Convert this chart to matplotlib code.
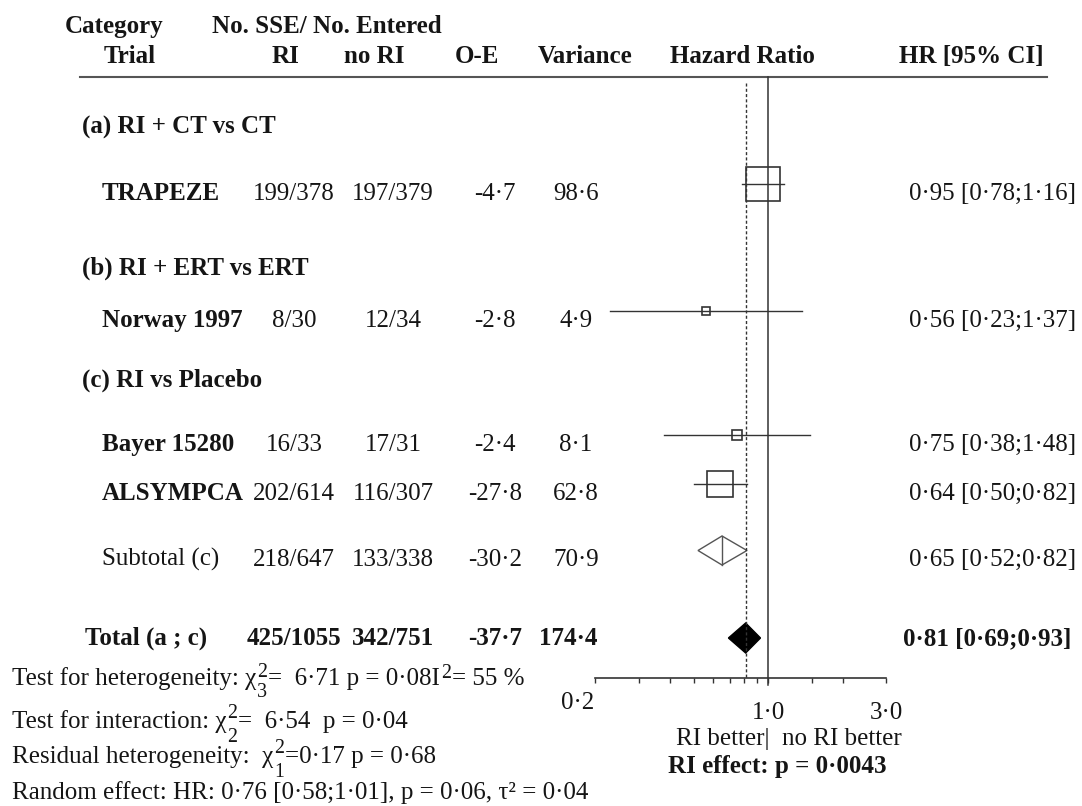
import numpy as np
import matplotlib
matplotlib.use("Agg")
import matplotlib.pyplot as plt
from matplotlib.transforms import ScaledTranslation

plt.rcParams['font.family'] = ['Liberation Serif', 'DejaVu Serif']

# === Dados ===
sections = ["(a) RI + CT vs CT", "(b) RI + ERT vs ERT", "(c) RI vs Placebo"]
trials = ["TRAPEZE", "Norway 1997", "Bayer 15280", "ALSYMPCA"]
ri_events = ["199/378", "8/30", "16/33", "202/614"]
nori_events = ["197/379", "12/34", "17/31", "116/307"]
o_minus_e = [-4.7, -2.8, -2.4, -27.8]
variance = [98.6, 4.9, 8.1, 62.8]
hr = [0.95, 0.56, 0.75, 0.64]
ci_low = [0.78, 0.23, 0.38, 0.50]
ci_high = [1.16, 1.37, 1.48, 0.82]

sub_label = "Subtotal (c)"
sub_ri, sub_nori = "218/647", "133/338"
sub_oe, sub_var = -30.2, 70.9
sub_hr, sub_lo, sub_hi = 0.65, 0.52, 0.82

tot_label = "Total (a ; c)"
tot_ri, tot_nori = "425/1055", "342/751"
tot_oe, tot_var = -37.7, 174.4
tot_hr, tot_lo, tot_hi = 0.81, 0.69, 0.93

tick_vals = [0.2, 1.0, 3.0]
tick_labels = ["0·2", "1·0", "3·0"]
minor_vals = [0.3, 0.4, 0.5, 0.6, 0.7, 0.8, 0.9, 1.5, 2.0]

# linhas de estatística: (texto, tipo) -> "n" normal, "ss" sobre/subscrito, "sup"
stats_lines = [
    [("Test for heterogeneity: χ", "n"), (("2", "3"), "ss"),
     ("=  6·71 p = 0·08I", "n"), ("2", "sup"), ("= 55 %", "n")],
    [("Test for interaction: χ", "n"), (("2", "2"), "ss"),
     ("=  6·54  p = 0·04", "n")],
    [("Residual heterogeneity:  χ", "n"), (("2", "1"), "ss"),
     ("=0·17 p = 0·68", "n")],
    [("Random effect: HR: 0·76 [0·58;1·01], p = 0·06, τ² = 0·04", "n")],
]


def fmt(v):
    return f"{v:.1f}".replace(".", "·")


def fmt_hr(h, lo, hi):
    return f"{h:.2f} [{lo:.2f};{hi:.2f}]".replace(".", "·")


# === Layout (pixels) ===
W, H = 1082, 806
FS = 18.0
TXT = "#151515"
LN = "#333333"

section_y = [134, 275, 387]
trial_y = [200, 327, 451, 500]
sub_y = 566
tot_y = 645
mark_off = 15.5
stats_y = [685, 728, 763, 799]

x_sec, x_name, x_tot = 82, 102, 85
x_ri, x_nori, x_oe, x_var, x_hr = 294, 393, 495, 576, 909

fig = plt.figure(figsize=(W / 100, H / 100), dpi=100)
renderer = fig.canvas.get_renderer()
tx = fig.add_axes([0, 0, 1, 1])
tx.set_xlim(0, W)
tx.set_ylim(H, 0)
tx.axis("off")


def put(x, y, s, ha="left", bold=False, size=FS):
    return tx.text(x, y, s, ha=ha, va="baseline", fontsize=size, color=TXT,
                   fontweight="bold" if bold else "normal")


def rich(x, y, parts, up=9, down=14, up_i=7):
    # escreve um texto com índices, avançando x pela largura de cada pedaço
    for s, kind in parts:
        if kind == "n":
            t = put(x, y, s)
            w = t.get_window_extent(renderer).width
        elif kind == "ss":
            t1 = put(x, y - up, s[0], size=FS * 0.8)
            t2 = put(x, y + down, s[1], size=FS * 0.8)
            w = max(t1.get_window_extent(renderer).width,
                    t2.get_window_extent(renderer).width)
        else:
            t = put(x, y - up_i, s, size=FS * 0.8)
            w = t.get_window_extent(renderer).width
        x += w + 1


# cabeçalho
put(114, 33, "Category", "center", True)
put(327, 33, "No. SSE/ No. Entered", "center", True)
put(130, 63, "Trial", "center", True)
put(286, 63, "RI", "center", True)
put(374, 63, "no RI", "center", True)
put(477, 63, "O-E", "center", True)
put(585, 63, "Variance", "center", True)
put(742, 63, "Hazard Ratio", "center", True)
put(971, 63, "HR [95% CI]", "center", True)
tx.plot([80, 1047], [77, 77], color="#555555", lw=1.5)

for s, y in zip(sections, section_y):
    put(x_sec, y, s, bold=True)

for i, name in enumerate(trials):
    y = trial_y[i]
    put(x_name, y, name, bold=True)
    put(x_ri, y, ri_events[i], "center")
    put(x_nori, y, nori_events[i], "center")
    put(x_oe, y, fmt(o_minus_e[i]), "center")
    put(x_var, y, fmt(variance[i]), "center")
    put(x_hr, y, fmt_hr(hr[i], ci_low[i], ci_high[i]))

put(x_name, sub_y, sub_label)
put(x_ri, sub_y, sub_ri, "center")
put(x_nori, sub_y, sub_nori, "center")
put(x_oe, sub_y, fmt(sub_oe), "center")
put(x_var, sub_y, fmt(sub_var), "center")
put(x_hr, sub_y, fmt_hr(sub_hr, sub_lo, sub_hi))

put(x_tot, tot_y, tot_label, bold=True)
put(x_ri, tot_y, tot_ri, "center", True)
put(x_nori, tot_y, tot_nori, "center", True)
put(x_oe, tot_y, fmt(tot_oe), "center", True)
put(x_var - 8, tot_y, fmt(tot_var), "center", True)
put(x_hr - 6, tot_y, fmt_hr(tot_hr, tot_lo, tot_hi), bold=True)

rich(12, stats_y[0], stats_lines[0], up=8, down=12, up_i=7)
rich(12, stats_y[1], stats_lines[1], up=9.5, down=13.5)
rich(12, stats_y[2], stats_lines[2], up=10, down=14)
rich(12, stats_y[3], stats_lines[3])

put(789, 745, "RI better|  no RI better", "center")
put(777, 773, "RI effect: p = 0·0043", "center", True)

# === Eixo do forest plot (escala log) ===
x0, x1 = 595.3, 886.4
y_top, y_axis = 77, 678
ax = fig.add_axes([x0 / W, (H - y_axis) / H, (x1 - x0) / W, (y_axis - y_top) / H])
ax.patch.set_visible(False)
ax.set_xscale("log")
ax.set_xlim(0.2, 3.0)
ax.set_ylim(y_axis, y_top)
for sp in ["top", "left", "right"]:
    ax.spines[sp].set_visible(False)
ax.spines["bottom"].set_color(LN)
ax.spines["bottom"].set_linewidth(1.2)
ax.set_yticks([])
ax.set_xticks(tick_vals)
ax.set_xticklabels(tick_labels, fontsize=FS, color=TXT)
ax.set_xticks(minor_vals, minor=True)
ax.xaxis.set_minor_formatter(plt.NullFormatter())
ax.tick_params(axis="x", which="both", direction="out", length=3.6,
               width=1, color=LN, pad=13.5)
lab0 = ax.get_xticklabels()[0]
lab0.set_transform(lab0.get_transform() +
                   ScaledTranslation(-0.18, 0.10, fig.dpi_scale_trans))

# linha de nulidade e linha do efeito global
ax.plot([1.0, 1.0], [y_top, y_axis + 7], color=LN, lw=1.1, clip_on=False)
ax.plot([tot_hr, tot_hr], [y_top + 6, y_axis], color=LN, lw=1.0,
        ls=(0, (2.2, 1.6)))

# estudos: IC + quadrado proporcional à variância
for i in range(len(trials)):
    ym = trial_y[i] - mark_off
    ax.plot([ci_low[i], ci_high[i]], [ym, ym], color=LN, lw=1.0)
    side = 3.35 * np.sqrt(variance[i]) * 0.72
    ax.plot([hr[i]], [ym], marker="s", ms=side, mfc="none", mec=LN, mew=1.2)

# subtotal: losango aberto
ym = sub_y - mark_off
hh = 14.5
ax.fill([sub_lo, sub_hr, sub_hi, sub_hr], [ym, ym - hh, ym, ym + hh],
        facecolor="white", edgecolor="#555555", lw=1.0)
ax.plot([sub_hr, sub_hr], [ym - hh, ym + hh], color="#555555", lw=1.0)

# total: losango preenchido
ym = tot_y - 7
hh = 15
ax.fill([tot_lo, tot_hr, tot_hi, tot_hr], [ym, ym - hh, ym, ym + hh],
        facecolor="black", edgecolor="black", lw=1.0)

fig.savefig("out.png", dpi=100, facecolor="white")
